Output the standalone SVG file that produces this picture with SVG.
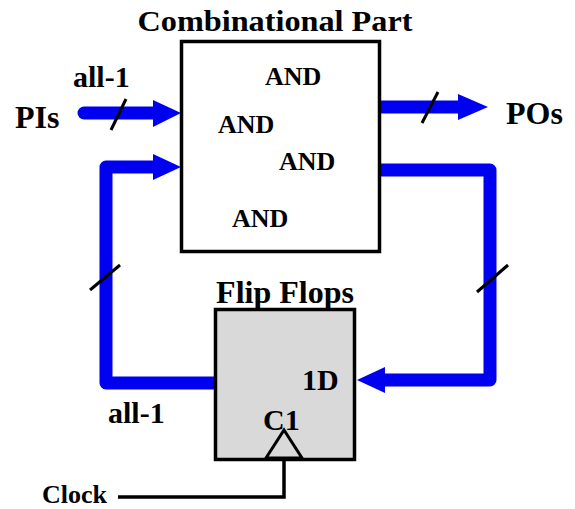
<svg xmlns="http://www.w3.org/2000/svg" width="575" height="509" viewBox="0 0 575 509">
<style>
text{font-family:"Liberation Serif","Times New Roman",serif;font-weight:bold;fill:#000}
.t30{font-size:30px}
.t32{font-size:32px}
.and{font-size:26px}
.bus{fill:none;stroke:#0000f0;stroke-width:13;stroke-linejoin:round;stroke-linecap:round}
.head{fill:#0000f0}
.sl{stroke:#000;stroke-width:3;fill:none}
.box{stroke:#000;stroke-width:3.5}
</style>
<rect width="575" height="509" fill="#fff"/>
<g id="connectors">
<line x1="84" y1="113" x2="155" y2="113" class="bus" stroke-linecap="butt"/>
<polygon class="head" points="153,100 181,113 153,127"/>
<line class="sl" x1="111" y1="130" x2="126" y2="99"/>
<line x1="382" y1="107" x2="460" y2="107" class="bus" stroke-linecap="butt"/>
<polygon class="head" points="458,94 488,107 458,120"/>
<line class="sl" x1="422" y1="123" x2="438" y2="92"/>
<polyline class="bus" points="155,167 106,167 106,383 220,383"/>
<polygon class="head" points="153,154 181,167 153,180"/>
<line class="sl" x1="90" y1="290" x2="120" y2="265"/>
<polyline class="bus" points="375,170 490,170 490,380 384,380"/>
<polygon class="head" points="385,367 357,380 385,393"/>
<line class="sl" x1="477" y1="292" x2="508" y2="265"/>
<polyline points="284,459 284,497 118,497" fill="none" stroke="#000" stroke-width="3.5"/>
</g>
<g id="combinational">
<rect class="box" x="181.5" y="41.5" width="198" height="210" fill="#fff"/>
<text class="t30" x="275" y="31" text-anchor="middle" textLength="275" lengthAdjust="spacingAndGlyphs">Combinational Part</text>
<text class="and" x="265" y="85">AND</text>
<text class="and" x="218" y="133">AND</text>
<text class="and" x="279" y="170">AND</text>
<text class="and" x="232" y="227">AND</text>
</g>
<g id="flipflops">
<rect class="box" x="215.5" y="309.5" width="139" height="150" fill="#d9d9d9"/>
<text class="t32" x="285" y="303" text-anchor="middle">Flip Flops</text>
<text class="t30" x="302" y="390">1D</text>
<text class="t30" x="263" y="430">C1</text>
<polygon points="266,458 284,430 302,458" fill="#d9d9d9" stroke="#000" stroke-width="3" stroke-linejoin="miter"/>
</g>
<g id="labels">
<text class="t32" x="15" y="128">PIs</text>
<text class="t30" x="73" y="87">all-1</text>
<text class="t32" x="506" y="124">POs</text>
<text class="t30" x="108" y="423">all-1</text>
<text x="42" y="503" style="font-size:26px">Clock</text>
</g>
</svg>
